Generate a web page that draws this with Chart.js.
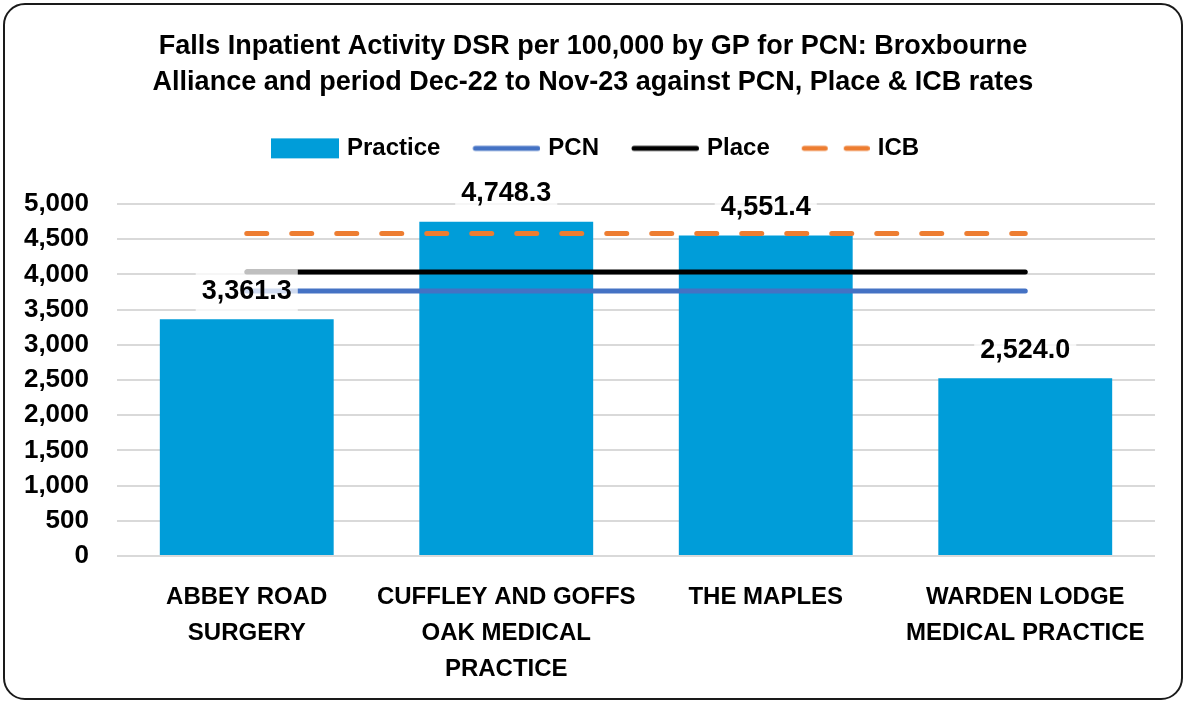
<!DOCTYPE html>
<html>
<head>
<meta charset="utf-8">
<script src="https://cdn.jsdelivr.net/npm/chart.js@4.4.1/dist/chart.umd.min.js"></script>
<style>
    html, body { margin: 0; padding: 0; background: #fff; }
    #wrap { position: relative; width: 1186px; height: 703px; }
    #frame {
        position: absolute; left: 3px; top: 3px; width: 1176px; height: 693px;
        border: 2px solid #1a1a1a; border-radius: 22px; pointer-events: none;
    }
</style>
</head>
<body>
<div id="wrap">
    <canvas id="chart" width="1186" height="703"></canvas>
    <div id="frame"></div>
</div>
<script>
// ─── DATA ────────────────────────────────────────────────────────────────
var practices = [
    ['ABBEY ROAD', 'SURGERY'],
    ['CUFFLEY AND GOFFS', 'OAK MEDICAL', 'PRACTICE'],
    ['THE MAPLES'],
    ['WARDEN LODGE', 'MEDICAL PRACTICE']
];
var practiceRates = [3361.3, 4748.3, 4551.4, 2524.0];
var pcnRate = [3764, 3764, 3764, 3764];
var placeRate = [4033, 4033, 4033, 4033];
var icbRate = [4581, 4581, 4581, 4581];
var yTicks = [0, 500, 1000, 1500, 2000, 2500, 3000, 3500, 4000, 4500, 5000];

var FONT = '"Liberation Sans", Arial, sans-serif';
var PAD = 8;
var PLOT_TOP = 204;      // where the 5,000 gridline sits
var PLOT_BOTTOM = 556;   // baseline
var PLOT_LEFT = 117;
var PLOT_RIGHT = 1155;
var TITLE_BOTTOM = 108.4;

// ─── LEGEND SYMBOLS ──────────────────────────────────────────────────────
// 76px canvas, symbol in the right 68px so the text sits close like Excel
function legendSwatch(kind, color) {
    var c = document.createElement('canvas');
    c.width = 76; c.height = 22;
    var g = c.getContext('2d');
    if (kind === 'box') {
        g.fillStyle = color;
        g.fillRect(8, 1, 68, 20);
    } else {
        g.strokeStyle = color;
        g.lineWidth = 5;
        g.lineCap = 'round';
        if (kind === 'dash') g.setLineDash([21, 21]);
        g.beginPath();
        g.moveTo(kind === 'dash' ? 10.5 : 11, 11);
        g.lineTo(73.5, 11);
        g.stroke();
    }
    return c;
}

// ─── DATA LABELS (white box behind, like Excel) ──────────────────────────
var barLabels = {
    id: 'barLabels',
    afterDatasetsDraw: function (chart) {
        var ctx = chart.ctx;
        var meta = chart.getDatasetMeta(3);
        ctx.save();
        ctx.font = 'bold 27px ' + FONT;
        ctx.textAlign = 'center';
        ctx.textBaseline = 'middle';
        meta.data.forEach(function (bar, i) {
            var txt = practiceRates[i].toLocaleString('en-GB', { minimumFractionDigits: 1, maximumFractionDigits: 1 });
            var y = bar.y - 29;
            var w = ctx.measureText(txt).width + 12;
            ctx.fillStyle = 'rgba(255,255,255,0.75)';
            ctx.fillRect(bar.x - w / 2, y - 21, w, 42);
            ctx.fillStyle = '#000';
            ctx.fillText(txt, bar.x, y + 1);
        });
        ctx.restore();
    }
};

// Excel leaves a wide gap under the legend, Chart.js only 10px
var legendGap = {
    id: 'legendGap',
    beforeLayout: function (chart) {
        var lg = chart.legend;
        if (!lg || lg._gapWrapped) return;
        var fit = lg.fit;
        lg.fit = function () {
            fit.call(this);
            this.height = PLOT_TOP - TITLE_BOTTOM;
        };
        lg._gapWrapped = true;
    }
};

Chart.defaults.font.family = FONT;
Chart.defaults.color = '#000';

new Chart(document.getElementById('chart'), {
    data: {
        labels: practices,
        datasets: [
            {
                type: 'line', label: 'ICB', data: icbRate, order: 1,
                borderColor: '#ED7D31', borderWidth: 5, borderDash: [20, 25], borderCapStyle: 'round',
                pointRadius: 0, pointStyle: legendSwatch('dash', '#ED7D31')
            },
            {
                type: 'line', label: 'Place', data: placeRate, order: 2,
                borderColor: '#000000', borderWidth: 5, borderCapStyle: 'round',
                pointRadius: 0, pointStyle: legendSwatch('line', '#000000')
            },
            {
                type: 'line', label: 'PCN', data: pcnRate, order: 3,
                borderColor: '#4472C4', borderWidth: 5, borderCapStyle: 'round',
                pointRadius: 0, pointStyle: legendSwatch('line', '#4472C4')
            },
            {
                type: 'bar', label: 'Practice', data: practiceRates, order: 4,
                backgroundColor: '#009DD9', barPercentage: 0.67, categoryPercentage: 1,
                pointStyle: legendSwatch('box', '#009DD9')
            }
        ]
    },
    options: {
        responsive: false,
        animation: false,
        layout: { padding: { left: PAD, right: PAD, top: 10, bottom: 12 } },
        plugins: {
            title: {
                display: true,
                text: ['Falls Inpatient Activity DSR per 100,000 by GP for PCN: Broxbourne',
                       'Alliance and period Dec-22 to Nov-23 against PCN, Place & ICB rates'],
                font: { size: 27, weight: 'bold', lineHeight: 1.34 },
                color: '#000',
                padding: { top: 18, bottom: 8 }
            },
            legend: {
                reverse: true,
                labels: {
                    usePointStyle: true,
                    pointStyleWidth: 68,
                    boxHeight: 22,
                    padding: 28,
                    font: { size: 24, weight: 'bold' },
                    color: '#000'
                }
            },
            tooltip: { enabled: false }
        },
        scales: {
            x: {
                offset: true,
                grid: { display: false, drawTicks: false },
                border: { display: false },
                ticks: { font: { size: 24, weight: 'bold', lineHeight: 1.5 }, padding: 23, maxRotation: 0, autoSkip: false },
                afterFit: function (scale) { scale.height = 703 - 12 - PLOT_BOTTOM; }
            },
            y: {
                min: 0, max: 5000,
                afterBuildTicks: function (scale) {
                    scale.ticks = yTicks.map(function (v) { return { value: v }; });
                },
                grid: { color: '#D9D9D9', lineWidth: 2, drawTicks: false },
                border: { display: false },
                ticks: {
                    font: { size: 26, weight: 'bold' }, padding: 28,
                    callback: function (v) { return v.toLocaleString('en-GB'); }
                },
                afterFit: function (scale) { scale.width = PLOT_LEFT - PAD; }
            },
            // empty right-hand axis, only keeps the plot clear of the right frame
            yRight: {
                type: 'linear', position: 'right',
                grid: { display: false, drawTicks: false },
                border: { display: false },
                ticks: { display: false },
                afterFit: function (scale) { scale.width = 1186 - PAD - PLOT_RIGHT; }
            }
        }
    },
    plugins: [legendGap, barLabels]
});
</script>
</body>
</html>
